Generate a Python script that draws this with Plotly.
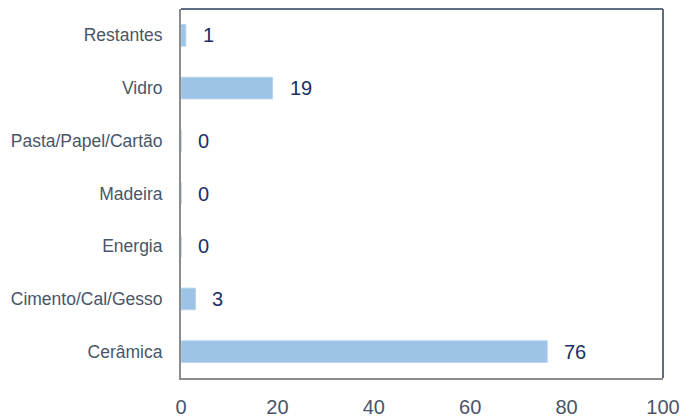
import plotly.graph_objects as go

categories = ["Cerâmica", "Cimento/Cal/Gesso", "Energia", "Madeira",
              "Pasta/Papel/Cartão", "Vidro", "Restantes"]
values = [76, 3, 0, 0, 0, 19, 1]
x_ticks = [0, 20, 40, 60, 80, 100]

fig = go.Figure()
fig.add_trace(go.Bar(
    y=categories, x=values, orientation="h",
    marker=dict(color="#9DC3E6", line=dict(color="#B8D4EE", width=1)),
    width=0.41, hoverinfo="skip",
))

for c, v in zip(categories, values):
    fig.add_annotation(x=v, y=c, text=str(v), showarrow=False,
                       xanchor="left", xshift=15, yshift=0,
                       font=dict(family="Liberation Sans, Arial", size=20, color="#1B2F66"))

fig.update_layout(
    width=692, height=411,
    margin=dict(l=173, r=37, t=1, b=41),
    paper_bgcolor="white", plot_bgcolor="white",
    showlegend=False,
    xaxis=dict(range=[0, 100], tickvals=x_ticks, showgrid=False, zeroline=False,
               showline=True, linecolor="#8C8C8C", linewidth=2, automargin=False,
               ticks="", ticklabelstandoff=10,
               tickfont=dict(family="Liberation Sans, Arial", size=20, color="#4A5568")),
    yaxis=dict(categoryorder="array", categoryarray=categories, range=[-0.5, 6.5],
               showgrid=False, zeroline=False, automargin=False,
               showline=True, linecolor="#8C8C8C", linewidth=2,
               ticks="", ticklabelstandoff=13,
               tickfont=dict(family="Liberation Sans, Arial", size=17.5, color="#4A5568")),
)

fig.add_shape(type="line", xref="paper", yref="paper", x0=0, x1=1, y0=1, y1=1,
              line=dict(color="#5E6D84", width=2))
fig.add_shape(type="line", xref="paper", yref="paper", x0=1, x1=1, y0=0, y1=1,
              line=dict(color="#5E6D84", width=2))

fig.write_html("out.html")
